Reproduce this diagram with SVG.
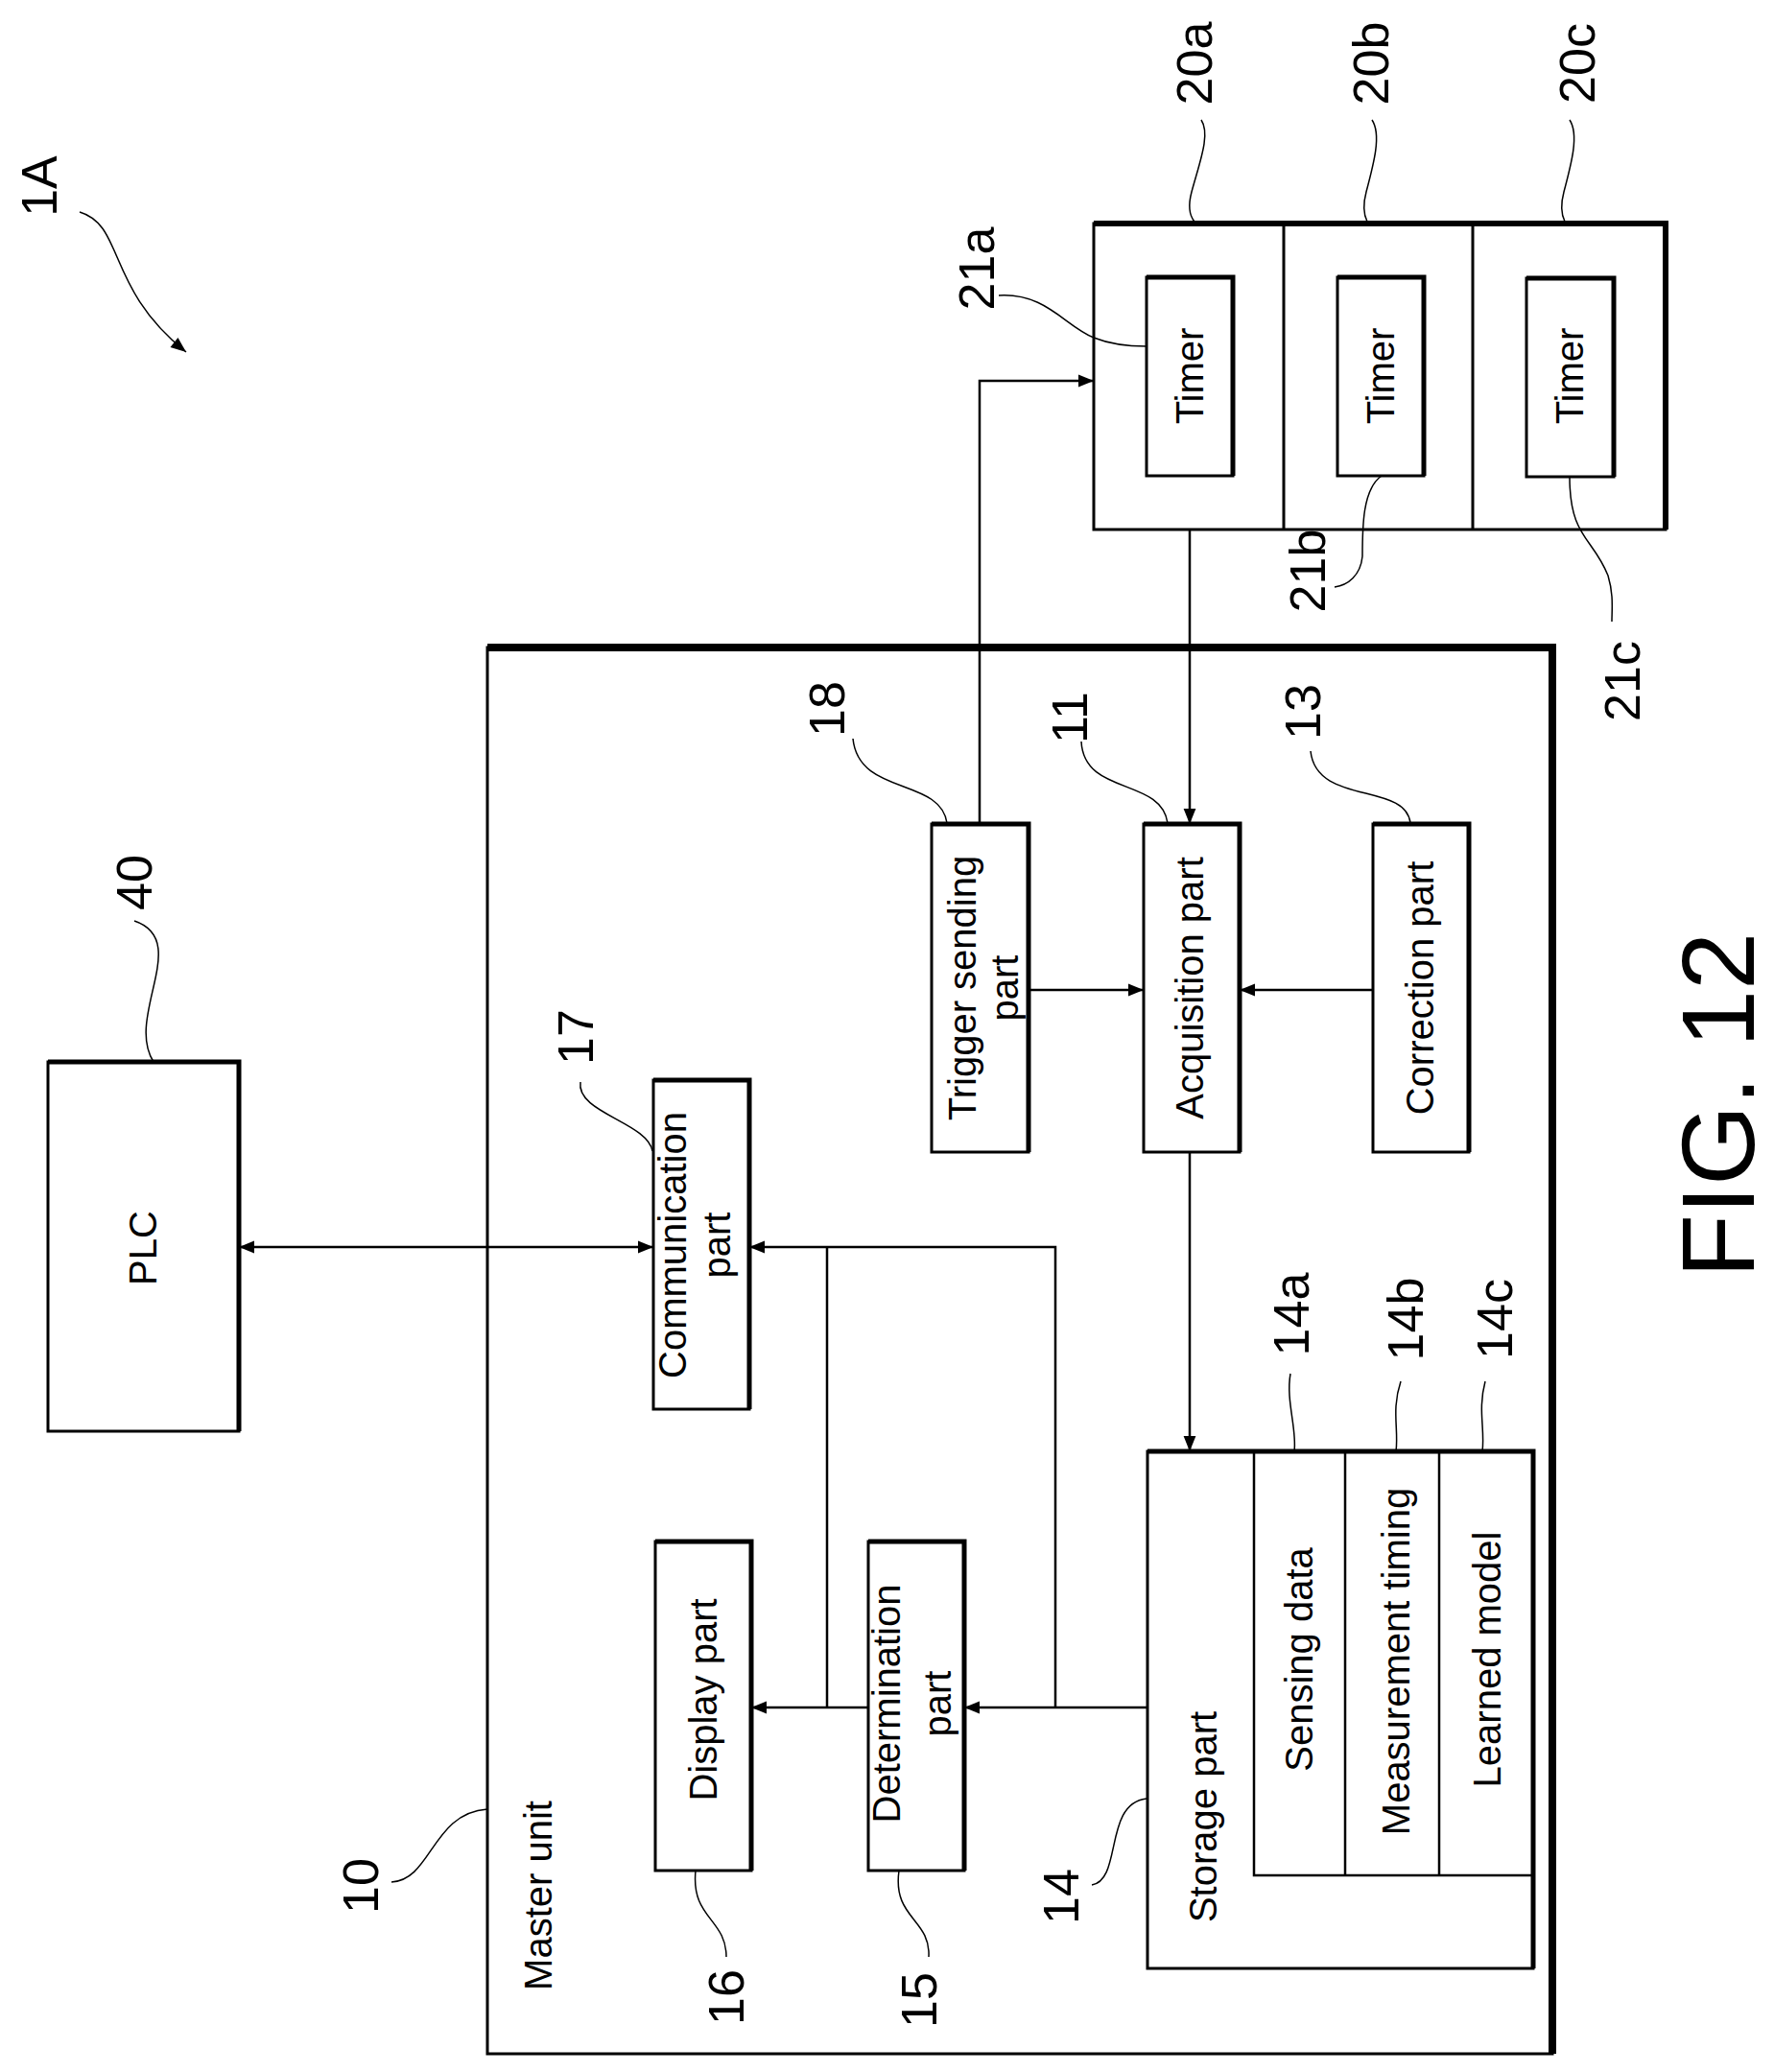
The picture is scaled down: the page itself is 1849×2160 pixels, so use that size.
<svg xmlns="http://www.w3.org/2000/svg" width="1849" height="2160" viewBox="0 0 1849 2160">
<defs>
<marker id="ah" viewBox="0 0 10 10" refX="10" refY="5" markerWidth="18" markerHeight="16" markerUnits="userSpaceOnUse" orient="auto-start-reverse"><path d="M0,1 L10,5 L0,9 z" fill="#000"/></marker>
<style>
text{font-family:"Liberation Sans",Arial,sans-serif;fill:#000}
.t{font-size:40px;text-anchor:middle;dominant-baseline:central}
.l{font-size:52px;text-anchor:middle;dominant-baseline:central}
.b{fill:#fff;stroke:#000;stroke-width:3}
.k{stroke:#000;stroke-width:8;fill:none}
.w{fill:none;stroke:#000;stroke-width:1.5}
.c{fill:none;stroke:#000;stroke-width:2.5}
</style>
</defs>
<rect width="1849" height="2160" fill="#fff"/>
<g id="label-1A"><text class="l" transform="translate(41,194) rotate(-90)">1A</text><path class="w" d="M83,221 C130,235 110,300 194,367" marker-end="url(#ah)"/></g>
<g id="master"><rect class="b" x="508" y="675" width="1110" height="1466"/><path class="k" d="M508,675 H1618 V2141"/><text class="t" transform="translate(561,1976) rotate(-90)">Master unit</text>
<text class="l" transform="translate(376,1966) rotate(-90)">10</text><path class="w" d="M408,1962 C450,1960 450,1890 508,1886"/></g>
<g id="plc"><rect class="b" x="50" y="1107" width="199" height="385"/><path class="k" style="stroke-width:5" d="M50,1107 H249 V1492"/><text class="t" transform="translate(149,1301) rotate(-90)">PLC</text>
<text class="l" transform="translate(140,920) rotate(-90)">40</text><path class="w" d="M140,960 C200,980 130,1060 160,1107"/></g>
<g id="sensors"><rect class="b" x="1140" y="233" width="596" height="319"/><path class="k" style="stroke-width:6" d="M1140,233 H1736 V552"/><line x1="1338" y1="233" x2="1338" y2="552" stroke="#000" stroke-width="3"/><line x1="1535" y1="233" x2="1535" y2="552" stroke="#000" stroke-width="3"/>
<rect class="b" x="1195" y="289" width="90" height="207"/><path class="k" style="stroke-width:5" d="M1195,289 H1285 V496"/><text class="t" transform="translate(1240,392) rotate(-90)">Timer</text>
<rect class="b" x="1394" y="289" width="90" height="207"/><path class="k" style="stroke-width:5" d="M1394,289 H1484 V496"/><text class="t" transform="translate(1439,392) rotate(-90)">Timer</text>
<rect class="b" x="1591" y="290" width="91" height="207"/><path class="k" style="stroke-width:5" d="M1591,290 H1682 V497"/><text class="t" transform="translate(1636,392) rotate(-90)">Timer</text>
<text class="l" transform="translate(1245,66) rotate(-90)">20a</text><path class="w" d="M1252,125 C1262,140 1250,170 1242,200 C1238,215 1240,225 1245,231"/>
<text class="l" transform="translate(1429,66) rotate(-90)">20b</text><path class="w" d="M1430,125 C1440,140 1432,170 1424,200 C1420,215 1422,225 1425,231"/>
<text class="l" transform="translate(1644,66) rotate(-90)">20c</text><path class="w" d="M1636,125 C1646,140 1638,170 1630,200 C1626,215 1628,225 1631,231"/>
<text class="l" transform="translate(1018,280) rotate(-90)">21a</text><path class="w" d="M1041,308 C1090,305 1110,340 1140,352 C1160,360 1180,361 1195,361"/>
<text class="l" transform="translate(1363,595) rotate(-90)">21b</text><path class="w" d="M1440,496 C1420,510 1420,550 1420,580 C1418,600 1405,610 1391,612"/>
<text class="l" transform="translate(1691,710) rotate(-90)">21c</text><path class="w" d="M1636,497 C1636,560 1660,560 1676,600 C1682,620 1680,635 1680,648"/></g>
<g id="trigger"><rect class="b" x="971" y="859" width="101" height="342"/><path class="k" style="stroke-width:5" d="M971,859 H1072 V1201"/><text class="t" transform="translate(1003,1030) rotate(-90)">Trigger sending</text><text class="t" transform="translate(1047,1030) rotate(-90)">part</text>
<text class="l" transform="translate(862,739) rotate(-90)">18</text><path class="w" d="M889,770 C895,830 980,810 987,858"/></g>
<g id="acquisition"><rect class="b" x="1192" y="859" width="100" height="342"/><path class="k" style="stroke-width:5" d="M1192,859 H1292 V1201"/><text class="t" transform="translate(1240,1030) rotate(-90)">Acquisition part</text>
<text class="l" transform="translate(1115,748) rotate(-90)">11</text><path class="w" d="M1127,773 C1130,830 1210,810 1217,858"/></g>
<g id="correction"><rect class="b" x="1431" y="859" width="100" height="342"/><path class="k" style="stroke-width:5" d="M1431,859 H1531 V1201"/><text class="t" transform="translate(1480,1030) rotate(-90)">Correction part</text>
<text class="l" transform="translate(1358,742) rotate(-90)">13</text><path class="w" d="M1366,783 C1372,840 1465,815 1470,858"/></g>
<g id="communication"><rect class="b" x="681" y="1126" width="100" height="343"/><path class="k" style="stroke-width:5" d="M681,1126 H781 V1469"/><text class="t" transform="translate(701,1298) rotate(-90)">Communication</text><text class="t" transform="translate(747,1298) rotate(-90)">part</text>
<text class="l" transform="translate(600,1081) rotate(-90)">17</text><path class="w" d="M605,1128 C600,1160 675,1170 680,1200"/></g>
<g id="storage"><rect class="b" x="1196" y="1513" width="402" height="539"/><path class="k" style="stroke-width:5" d="M1196,1513 H1598 V2052"/>
<path class="c" d="M1307,1513 V1955 H1598 M1402,1513 V1955 M1500,1513 V1955"/>
<text class="t" transform="translate(1254,1894) rotate(-90)">Storage part</text>
<text class="t" transform="translate(1354,1730) rotate(-90)">Sensing data</text>
<text class="t" transform="translate(1455,1732) rotate(-90)">Measurement timing</text>
<text class="t" transform="translate(1550,1730) rotate(-90)">Learned model</text>
<text class="l" transform="translate(1346,1370) rotate(-90)">14a</text><path class="w" d="M1345,1432 C1340,1460 1352,1490 1349,1513"/>
<text class="l" transform="translate(1465,1375) rotate(-90)">14b</text><path class="w" d="M1460,1440 C1450,1470 1458,1490 1455,1513"/>
<text class="l" transform="translate(1558,1375) rotate(-90)">14c</text><path class="w" d="M1548,1440 C1540,1470 1548,1490 1545,1513"/>
<text class="l" transform="translate(1106,1977) rotate(-90)">14</text><path class="w" d="M1138,1965 C1170,1960 1150,1880 1195,1875"/></g>
<g id="determination"><rect class="b" x="905" y="1607" width="100" height="343"/><path class="k" style="stroke-width:5" d="M905,1607 H1005 V1950"/><text class="t" transform="translate(924,1776) rotate(-90)">Determination</text><text class="t" transform="translate(977,1776) rotate(-90)">part</text>
<text class="l" transform="translate(958,2085) rotate(-90)">15</text><path class="w" d="M937,1950 C930,2000 970,2000 968,2040"/></g>
<g id="display"><rect class="b" x="683" y="1607" width="100" height="343"/><path class="k" style="stroke-width:5" d="M683,1607 H783 V1950"/><text class="t" transform="translate(733,1772) rotate(-90)">Display part</text>
<text class="l" transform="translate(757,2082) rotate(-90)">16</text><path class="w" d="M725,1950 C720,2000 757,2000 757,2040"/></g>
<g id="fig"><text transform="translate(1790,1152) rotate(-90)" style="font-size:108px;text-anchor:middle;dominant-baseline:central">FIG. 12</text></g>
<g id="connectors" fill="none" stroke="#000" stroke-width="2.5">
<path d="M1021,859 V397 H1140" marker-end="url(#ah)"/>
<path d="M1240,552 V859" marker-end="url(#ah)"/>
<path d="M1072,1032 H1192" marker-end="url(#ah)"/>
<path d="M1431,1032 H1292" marker-end="url(#ah)"/>
<path d="M1240,1201 V1513" marker-end="url(#ah)"/>
<path d="M249,1300 H681" marker-start="url(#ah)" marker-end="url(#ah)"/>
<path d="M1196,1780 H1005" marker-end="url(#ah)"/>
<path d="M1100,1780 V1300 H781" marker-end="url(#ah)"/>
<path d="M905,1780 H783" marker-end="url(#ah)"/>
<path d="M862,1780 V1300"/>
</g>
</svg>
